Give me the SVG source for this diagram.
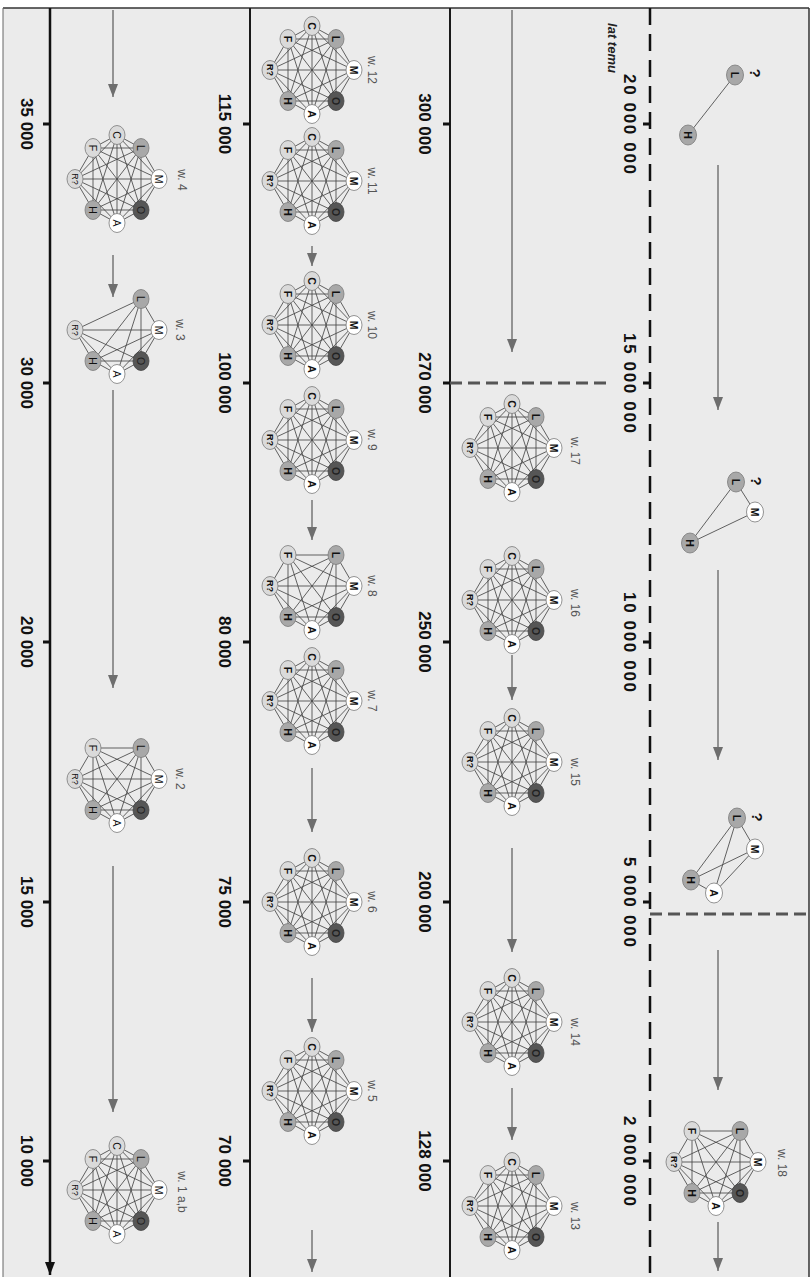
<svg xmlns="http://www.w3.org/2000/svg" xmlns:xlink="http://www.w3.org/1999/xlink" width="810" height="1277" viewBox="0 0 810 1277">
<style>
.e{stroke:#474747;stroke-width:0.85;fill:none}
.n1{fill:#dadada;stroke:#7a7a7a;stroke-width:0.8}
.n2{fill:#a8a8a8;stroke:#7a7a7a;stroke-width:0.8}
.n3{fill:#ffffff;stroke:#7a7a7a;stroke-width:0.8}
.n4{fill:#565656;stroke:#444;stroke-width:0.8}
.lt{font-family:"Liberation Sans",Arial,sans-serif;font-size:10.5px;text-anchor:middle;fill:#111}
.rq{font-size:9px}
.wl{font-family:"Liberation Sans",Arial,sans-serif;font-size:12px;text-anchor:middle;fill:#555}
.tl{font-family:"Liberation Sans",Arial,sans-serif;font-size:17px;font-weight:bold;text-anchor:middle;fill:#111}
.q{font-family:"Liberation Sans",Arial,sans-serif;font-size:15px;font-weight:bold;text-anchor:middle;fill:#111}
.arr{stroke:#6e6e6e;stroke-width:1.4;fill:none;marker-end:url(#ah)}
.ax{stroke:#1a1a1a;stroke-width:2;fill:none}
.sep{stroke:#555;stroke-width:3;stroke-dasharray:12 6;fill:none}
.bd{font-weight:bold}
.rg{font-weight:normal}
</style>
<defs>
<marker id="ah" viewBox="0 0 13 10" refX="13" refY="5" markerWidth="13" markerHeight="10" markerUnits="userSpaceOnUse" orient="auto"><path d="M0,0L13,5L0,10z" fill="#6e6e6e"/></marker>
<marker id="ahk" viewBox="0 0 13 10" refX="13" refY="5" markerWidth="13" markerHeight="10" markerUnits="userSpaceOnUse" orient="auto"><path d="M0,0L13,5L0,10z" fill="#111"/></marker>
<path id="eC" class="e" d="M0,-44L24,-31M0,-44L42,0M0,-44L24,31M0,-44L0,44M0,-44L-24,31M0,-44L-42,0M0,-44L-24,-31"/>
<path id="eF" class="e" d="M24,-31L-24,-31M42,0L-24,-31M24,31L-24,-31M0,44L-24,-31M-24,31L-24,-31M-42,0L-24,-31"/>
<path id="e6" class="e" d="M24,-31L42,0M24,-31L24,31M24,-31L0,44M24,-31L-24,31M24,-31L-42,0M42,0L24,31M42,0L0,44M42,0L-24,31M42,0L-42,0M24,31L0,44M24,31L-24,31M24,31L-42,0M0,44L-24,31M0,44L-42,0M-24,31L-42,0"/>
<g id="nC"><ellipse class="n1" cx="0" cy="-44" rx="8" ry="9.5"/><text class="lt" transform="translate(0,-44) rotate(90)" y="3.8">C</text></g>
<g id="nL"><ellipse class="n2" cx="24" cy="-31" rx="8" ry="9.5"/><text class="lt" transform="translate(24,-31) rotate(90)" y="3.8">L</text></g>
<g id="nM"><ellipse class="n3" cx="42" cy="0" rx="8" ry="9.5"/><text class="lt" transform="translate(42,0) rotate(90)" y="3.8">M</text></g>
<g id="nO"><ellipse class="n4" cx="24" cy="31" rx="8" ry="9.5"/><text class="lt" transform="translate(24,31) rotate(90)" y="3.8" style="fill:#222">O</text></g>
<g id="nA"><ellipse class="n3" cx="0" cy="44" rx="8" ry="9.5"/><text class="lt" transform="translate(0,44) rotate(90)" y="3.8">A</text></g>
<g id="nH"><ellipse class="n2" cx="-24" cy="31" rx="8" ry="9.5"/><text class="lt" transform="translate(-24,31) rotate(90)" y="3.8">H</text></g>
<g id="nR"><ellipse class="n1" cx="-42" cy="0" rx="8" ry="9.5"/><text class="lt rq" transform="translate(-42,0) rotate(90)" y="3.3">R?</text></g>
<g id="nF"><ellipse class="n1" cx="-24" cy="-31" rx="8" ry="9.5"/><text class="lt" transform="translate(-24,-31) rotate(90)" y="3.8">F</text></g>
<g id="k6"><use href="#e6"/><use href="#nL"/><use href="#nM"/><use href="#nO"/><use href="#nA"/><use href="#nH"/><use href="#nR"/></g>
<g id="k7"><use href="#e6"/><use href="#eF"/><use href="#nL"/><use href="#nM"/><use href="#nO"/><use href="#nA"/><use href="#nH"/><use href="#nR"/><use href="#nF"/></g>
<g id="k8"><use href="#e6"/><use href="#eF"/><use href="#eC"/><use href="#nC"/><use href="#nL"/><use href="#nM"/><use href="#nO"/><use href="#nA"/><use href="#nH"/><use href="#nR"/><use href="#nF"/></g>
</defs>

<rect x="0" y="0" width="810" height="1277" fill="#ffffff"/>
<rect x="3" y="8" width="806" height="1269" fill="#ebebeb"/>

<g id="frame">
<line x1="3" y1="8" x2="809" y2="8" stroke="#333" stroke-width="1.5"/>
<line x1="809" y1="8" x2="809" y2="1277" stroke="#333" stroke-width="1.5"/>
<line x1="3" y1="8" x2="3" y2="1277" stroke="#666" stroke-width="1"/>
</g>

<g id="axes">
<line x1="650" y1="8" x2="650" y2="1277" stroke="#111" stroke-width="2.5" stroke-dasharray="17 9"/>
<line class="ax" x1="450" y1="8" x2="450" y2="1277"/>
<line class="ax" x1="250" y1="8" x2="250" y2="1277"/>
<line x1="50" y1="8" x2="50" y2="1275" stroke="#111" stroke-width="2.5" marker-end="url(#ahk)"/>
<line class="sep" x1="450" y1="383" x2="612" y2="383"/>
<line class="sep" x1="650" y1="914" x2="810" y2="914"/>
<g fill="#111">
<rect x="643" y="122.5" width="7" height="3"/><rect x="643" y="381.5" width="7" height="3"/><rect x="643" y="640.5" width="7" height="3"/><rect x="643" y="900.5" width="7" height="3"/><rect x="643" y="1159.5" width="7" height="3"/>
<rect x="443" y="122.5" width="7" height="3"/><rect x="443" y="381.5" width="7" height="3"/><rect x="443" y="640.5" width="7" height="3"/><rect x="443" y="900.5" width="7" height="3"/><rect x="443" y="1159.5" width="7" height="3"/>
<rect x="243" y="122.5" width="7" height="3"/><rect x="243" y="381.5" width="7" height="3"/><rect x="243" y="640.5" width="7" height="3"/><rect x="243" y="900.5" width="7" height="3"/><rect x="243" y="1159.5" width="7" height="3"/>
<rect x="43" y="122.5" width="7" height="3"/><rect x="43" y="381.5" width="7" height="3"/><rect x="43" y="640.5" width="7" height="3"/><rect x="43" y="900.5" width="7" height="3"/><rect x="43" y="1159.5" width="7" height="3"/>
</g>
</g>

<g id="axis-labels">
<text transform="translate(612,48) rotate(90)" y="4.5" style="font-family:'Liberation Sans',Arial,sans-serif;font-size:13px;font-style:italic;font-weight:bold;text-anchor:middle;fill:#222">lat temu</text>
<text class="tl" transform="translate(630,124) rotate(90)" y="6" textLength="100" lengthAdjust="spacing">20 000 000</text>
<text class="tl" transform="translate(630,383) rotate(90)" y="6" textLength="100" lengthAdjust="spacing">15 000 000</text>
<text class="tl" transform="translate(630,642) rotate(90)" y="6" textLength="100" lengthAdjust="spacing">10 000 000</text>
<text class="tl" transform="translate(630,902) rotate(90)" y="6" textLength="90" lengthAdjust="spacing">5 000 000</text>
<text class="tl" transform="translate(630,1161) rotate(90)" y="6" textLength="90" lengthAdjust="spacing">2 000 000</text>
<text class="tl" transform="translate(425,124) rotate(90)" y="6">300 000</text>
<text class="tl" transform="translate(425,383) rotate(90)" y="6">270 000</text>
<text class="tl" transform="translate(425,642) rotate(90)" y="6">250 000</text>
<text class="tl" transform="translate(425,902) rotate(90)" y="6">200 000</text>
<text class="tl" transform="translate(425,1161) rotate(90)" y="6">128 000</text>
<text class="tl" transform="translate(225,124) rotate(90)" y="6">115 000</text>
<text class="tl" transform="translate(225,383) rotate(90)" y="6">100 000</text>
<text class="tl" transform="translate(225,642) rotate(90)" y="6">80 000</text>
<text class="tl" transform="translate(225,902) rotate(90)" y="6">75 000</text>
<text class="tl" transform="translate(225,1161) rotate(90)" y="6">70 000</text>
<text class="tl" transform="translate(27,124) rotate(90)" y="6">35 000</text>
<text class="tl" transform="translate(27,383) rotate(90)" y="6">30 000</text>
<text class="tl" transform="translate(27,642) rotate(90)" y="6">20 000</text>
<text class="tl" transform="translate(27,902) rotate(90)" y="6">15 000</text>
<text class="tl" transform="translate(27,1161) rotate(90)" y="6">10 000</text>
</g>

<g id="connectors">
<line class="arr" x1="718" y1="165" x2="718" y2="410"/>
<line class="arr" x1="718" y1="570" x2="718" y2="760"/>
<line class="arr" x1="718" y1="950" x2="718" y2="1090"/>
<line class="arr" x1="718" y1="1222" x2="718" y2="1271"/>
<line class="arr" x1="512" y1="10" x2="512" y2="352"/>
<line class="arr" x1="512" y1="655" x2="512" y2="700"/>
<line class="arr" x1="512" y1="848" x2="512" y2="952"/>
<line class="arr" x1="512" y1="1088" x2="512" y2="1140"/>
<line class="arr" x1="312" y1="246" x2="312" y2="266"/>
<line class="arr" x1="312" y1="500" x2="312" y2="540"/>
<line class="arr" x1="312" y1="768" x2="312" y2="832"/>
<line class="arr" x1="312" y1="978" x2="312" y2="1032"/>
<line class="arr" x1="312" y1="1230" x2="312" y2="1272"/>
<line class="arr" x1="113" y1="10" x2="113" y2="97"/>
<line class="arr" x1="113" y1="255" x2="113" y2="297"/>
<line class="arr" x1="113" y1="390" x2="113" y2="688"/>
<line class="arr" x1="113" y1="866" x2="113" y2="1112"/>
</g>

<g id="g-a" class="bd">
<line class="e" x1="735" y1="75" x2="688" y2="135"/>
<ellipse class="n2" cx="735" cy="75" rx="8.5" ry="10"/><text class="lt" transform="translate(735,75) rotate(90)" y="3.8">L</text>
<ellipse class="n2" cx="688" cy="135" rx="8.5" ry="10"/><text class="lt" transform="translate(688,135) rotate(90)" y="3.8">H</text>
<text class="q" transform="translate(755,73) rotate(90)" y="5.5">?</text>
</g>
<g id="g-b" class="bd">
<path class="e" d="M736,482L690,543M736,482L755,512M755,512L690,543"/>
<ellipse class="n2" cx="736" cy="482" rx="8.5" ry="10"/><text class="lt" transform="translate(736,482) rotate(90)" y="3.8">L</text>
<ellipse class="n3" cx="755" cy="512" rx="8.5" ry="10"/><text class="lt" transform="translate(755,512) rotate(90)" y="3.8">M</text>
<ellipse class="n2" cx="690" cy="543" rx="8.5" ry="10"/><text class="lt" transform="translate(690,543) rotate(90)" y="3.8">H</text>
<text class="q" transform="translate(756,481) rotate(90)" y="5.5">?</text>
</g>
<g id="g-c" class="bd">
<path class="e" d="M737,818L755,849M737,818L691,880M737,818L714,893M755,849L691,880M755,849L714,893M691,880L714,893"/>
<ellipse class="n2" cx="737" cy="818" rx="8.5" ry="10"/><text class="lt" transform="translate(737,818) rotate(90)" y="3.8">L</text>
<ellipse class="n3" cx="755" cy="849" rx="8.5" ry="10"/><text class="lt" transform="translate(755,849) rotate(90)" y="3.8">M</text>
<ellipse class="n2" cx="691" cy="880" rx="8.5" ry="10"/><text class="lt" transform="translate(691,880) rotate(90)" y="3.8">H</text>
<ellipse class="n3" cx="714" cy="893" rx="8.5" ry="10"/><text class="lt" transform="translate(714,893) rotate(90)" y="3.8">A</text>
<text class="q" transform="translate(757,817) rotate(90)" y="5.5">?</text>
</g>
<g id="w18" class="bd" transform="translate(716,1162)"><use href="#k7"/><text class="wl rg" transform="translate(66,1) rotate(90)" y="4">w. 18</text></g>

<g id="w17" class="bd" transform="translate(512,448)"><use href="#k8"/><text class="wl rg" transform="translate(63,3) rotate(90)" y="4">w. 17</text></g>
<g id="w16" class="bd" transform="translate(512,600)"><use href="#k8"/><text class="wl rg" transform="translate(63,3) rotate(90)" y="4">w. 16</text></g>
<g id="w15" class="bd" transform="translate(512,762)"><use href="#k8"/><text class="wl rg" transform="translate(63,10) rotate(90)" y="4">w. 15</text></g>
<g id="w14" class="bd" transform="translate(512,1022)"><use href="#k8"/><text class="wl rg" transform="translate(63,10) rotate(90)" y="4">w. 14</text></g>
<g id="w13" class="bd" transform="translate(512,1206)"><use href="#k8"/><text class="wl rg" transform="translate(63,10) rotate(90)" y="4">w. 13</text></g>

<g id="w12" class="bd" transform="translate(312,70)"><use href="#k8"/><text class="wl rg" transform="translate(60,0) rotate(90)" y="4">w. 12</text></g>
<g id="w11" class="bd" transform="translate(312,181)"><use href="#k8"/><text class="wl rg" transform="translate(60,0) rotate(90)" y="4">w. 11</text></g>
<g id="w10" class="bd" transform="translate(312,325)"><use href="#k8"/><text class="wl rg" transform="translate(60,0) rotate(90)" y="4">w. 10</text></g>
<g id="w9" class="bd" transform="translate(312,440)"><use href="#k8"/><text class="wl rg" transform="translate(60,0) rotate(90)" y="4">w. 9</text></g>
<g id="w8" class="bd" transform="translate(312,586)"><use href="#k7"/><text class="wl rg" transform="translate(60,0) rotate(90)" y="4">w. 8</text></g>
<g id="w7" class="bd" transform="translate(312,701)"><use href="#k8"/><text class="wl rg" transform="translate(60,0) rotate(90)" y="4">w. 7</text></g>
<g id="w6" class="bd" transform="translate(312,902)"><use href="#k8"/><text class="wl rg" transform="translate(60,0) rotate(90)" y="4">w. 6</text></g>
<g id="w5" class="bd" transform="translate(312,1091)"><use href="#k8"/><text class="wl rg" transform="translate(60,0) rotate(90)" y="4">w. 5</text></g>

<g id="w4" class="rg" transform="translate(117,179)"><use href="#k8"/><text class="wl" transform="translate(65,1) rotate(90)" y="4">w. 4</text></g>
<g id="w3" class="rg" transform="translate(117,330)"><use href="#k6"/><text class="wl" transform="translate(63,0) rotate(90)" y="4">w. 3</text></g>
<g id="w2" class="rg" transform="translate(117,779)"><use href="#k7"/><text class="wl" transform="translate(63,0) rotate(90)" y="4">w. 2</text></g>
<g id="w1" class="rg" transform="translate(117,1190)"><use href="#k8"/><text class="wl" transform="translate(65,2) rotate(90)" y="4">w. 1 a,b</text></g>
</svg>
